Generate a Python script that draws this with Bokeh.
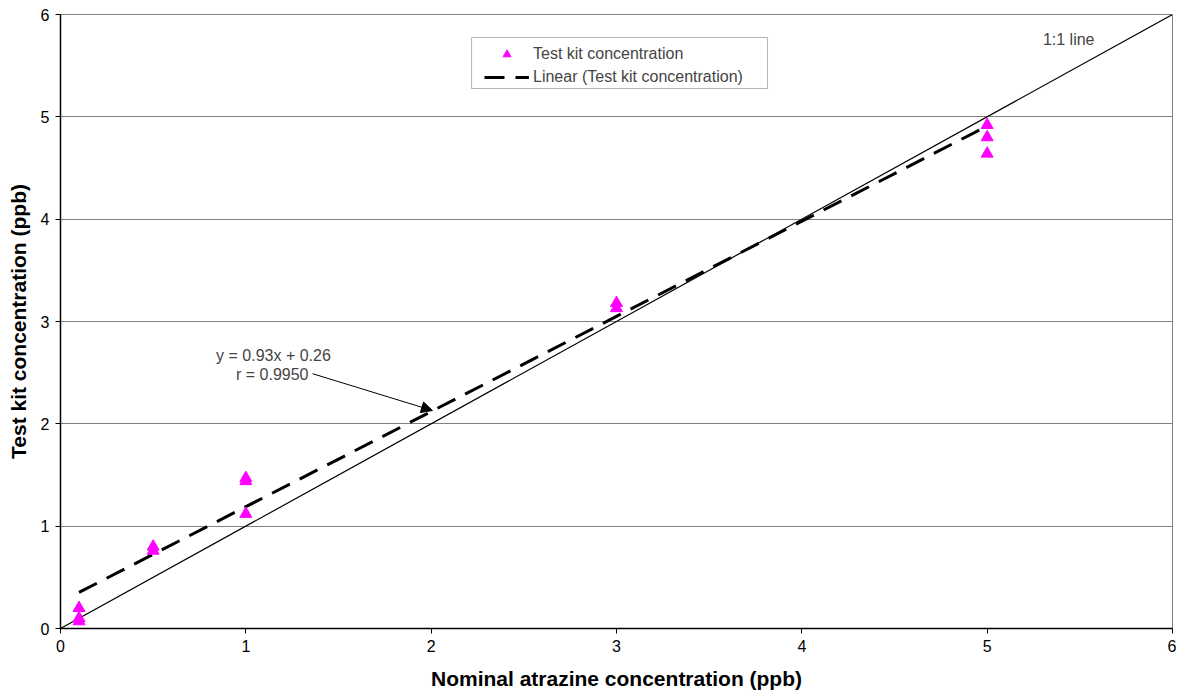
from bokeh.plotting import figure
from bokeh.models import (ColumnDataSource, FixedTicker, Range1d, Legend, LegendItem,
                          Arrow, NormalHead, Label, BoxAnnotation)
from bokeh.embed import file_html
from bokeh.resources import INLINE

# Data
nominal = [0.1, 0.1, 0.1, 0.5, 0.5, 1, 1, 1, 3, 3, 5, 5, 5]
test_kit = [0.20, 0.10, 0.07, 0.80, 0.76, 1.47, 1.44, 1.12, 3.18, 3.13, 4.92, 4.80, 4.64]
slope = 0.93
intercept = 0.26
r_value = 0.9950
trend_x = [0.1, 5.0]
one_to_one = [0, 6]
ticks = [0, 1, 2, 3, 4, 5, 6]

FONT = "Liberation Sans"

p = figure(width=1176, height=692, output_backend="svg", toolbar_location=None,
           x_range=Range1d(0, 6), y_range=Range1d(0, 6),
           min_border_left=60, min_border_right=4, min_border_top=14, min_border_bottom=64)
p.background_fill_color = "white"
p.border_fill_color = "white"
p.outline_line_color = "#808080"
p.outline_line_width = 1

for ax in (p.xaxis[0], p.yaxis[0]):
    ax.ticker = FixedTicker(ticks=ticks)
    ax.minor_tick_line_color = None
    ax.major_tick_in = 0
    ax.major_tick_out = 5
    ax.axis_line_color = "black"
    ax.axis_line_width = 1.5
    ax.major_tick_line_color = "black"
    ax.major_label_text_font = FONT
    ax.major_label_text_font_size = "16px"
    ax.major_label_text_color = "black"
    ax.axis_label_text_font = FONT
    ax.axis_label_text_font_size = "21px"
    ax.axis_label_text_font_style = "bold"
    ax.axis_label_text_color = "black"

p.xaxis.axis_label = "Nominal atrazine concentration (ppb)"
p.yaxis.axis_label = "Test kit concentration (ppb)"
p.xaxis.major_label_standoff = 6
p.xaxis.axis_label_standoff = 12
p.yaxis.major_label_standoff = 6
p.yaxis.axis_label_standoff = 8

p.xgrid.grid_line_color = None
p.ygrid.grid_line_color = "#808080"
p.ygrid.grid_line_width = 1
p.ygrid.ticker = FixedTicker(ticks=ticks)

# 1:1 line
p.line(one_to_one, one_to_one, line_color="black", line_width=1.2)

# Trend line
trend_y = [slope * x + intercept for x in trend_x]
r_trend = p.line(trend_x, trend_y, line_color="black", line_width=3, line_dash="20 11")

# Points
src = ColumnDataSource(dict(x=nominal, y=test_kit))
r_pts = p.scatter("x", "y", source=src, marker="triangle", size=12,
                  fill_color="#FF00FF", line_color="#FF00FF")

# Legend frame
p.add_layout(BoxAnnotation(left=2.218, right=3.815, bottom=5.277, top=5.775,
                           fill_color="white", fill_alpha=1,
                           line_color="black", line_width=1))

legend = Legend(items=[LegendItem(label="Test kit concentration", renderers=[r_pts]),
                       LegendItem(label="Linear (Test kit concentration)", renderers=[r_trend])],
                location=(424, 541), orientation="vertical")
legend.border_line_color = None
legend.background_fill_alpha = 0
legend.label_text_font = FONT
legend.label_text_font_size = "16px"
legend.glyph_width = 45
legend.glyph_height = 20
legend.label_height = 20
legend.label_standoff = 4
legend.padding = 4
legend.spacing = 3
legend.margin = 0
p.add_layout(legend, "center")

# Annotations
p.add_layout(Label(x=1.149, y=2.668, text=f"y = {slope}x + {intercept}", text_font=FONT,
                   text_font_size="16px", text_align="center", text_baseline="middle"))
p.add_layout(Label(x=1.338, y=2.482, text=f"r = {r_value:.4f}", text_font=FONT,
                   text_font_size="16px", text_align="right", text_baseline="middle"))
p.add_layout(Label(x=5.44, y=5.756, text="1:1 line", text_font=FONT,
                   text_font_size="16px", text_align="center", text_baseline="middle"))
p.add_layout(Arrow(x_start=1.36, y_start=2.49, x_end=2.007, y_end=2.13,
                   line_color="black", line_width=1,
                   end=NormalHead(size=11, fill_color="black", line_color="black")))

open("out.html", "w").write(file_html(p, INLINE))
